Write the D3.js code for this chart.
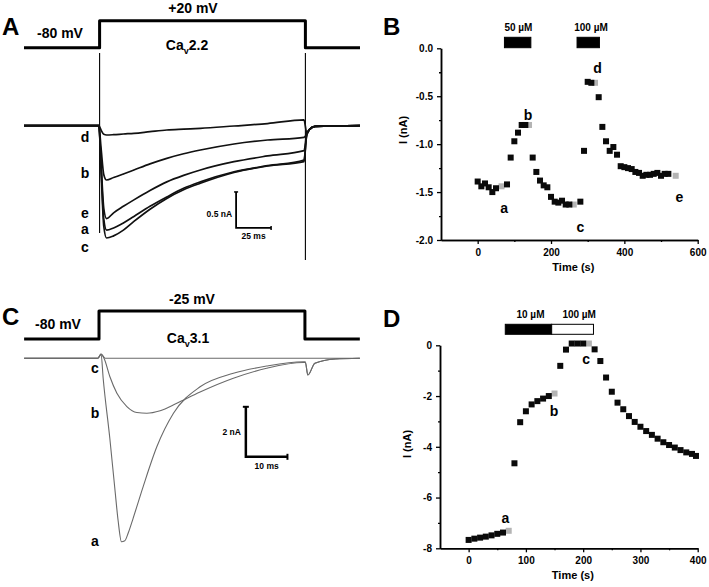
<!DOCTYPE html>
<html>
<head>
<meta charset="utf-8">
<script src="https://cdn.jsdelivr.net/npm/d3@7"></script>
<style>
  body { margin: 0; background: #fff; }
  text { font-family: "Liberation Sans", Arial, sans-serif; font-weight: bold; fill: #000; }
</style>
</head>
<body>
<svg id="fig" width="709" height="587"></svg>
<script>
// ---------------- DATA ----------------
// Panel A: Cav2.2 voltage protocol (ms, mV)
const protocolA = [[-54, -80], [0, -80], [0, 20], [147, 20], [147, -80], [186, -80]];
// Panel A current traces [ms, nA]
const traceAc = [[-54,0],[-0.5,0],[1,-0.6],[3,-1.40],[5,-1.56],[10,-1.53],[17,-1.45],[24.5,-1.33],[36,-1.16],[48,-1.01],[60,-0.89],[72,-0.80],[96,-0.65],[120,-0.56],[146,-0.50],[148,-0.12],[150,-0.05],[154,-0.01],[186,0]];
const traceAa = [[-54,0],[-0.5,0],[1,-0.55],[3,-1.30],[5,-1.45],[10,-1.42],[17,-1.35],[24.5,-1.26],[36,-1.12],[48,-0.99],[60,-0.87],[72,-0.78],[96,-0.64],[120,-0.555],[146,-0.476],[148,-0.12],[150,-0.05],[154,-0.01],[186,0]];
const traceAe = [[-54,0],[-0.5,0],[1,-0.5],[3,-1.15],[5,-1.29],[10,-1.21],[17,-1.12],[24.5,-1.03],[36,-0.90],[48,-0.78],[60,-0.69],[72,-0.615],[96,-0.50],[120,-0.42],[146,-0.347],[148,-0.12],[150,-0.05],[154,-0.01],[186,0]];
const traceAb = [[-54,0],[-0.5,0],[1,-0.3],[3,-0.68],[5,-0.754],[10,-0.72],[17,-0.67],[24.5,-0.615],[36,-0.53],[48,-0.453],[60,-0.39],[72,-0.338],[96,-0.254],[120,-0.199],[146,-0.161],[148,-0.12],[150,-0.05],[154,-0.01],[186,0]];
const traceAd = [[-54,0],[-0.5,0],[1,-0.06],[3,-0.12],[5,-0.129],[10,-0.125],[17,-0.115],[24.5,-0.106],[36,-0.083],[48,-0.06],[60,-0.048],[72,-0.037],[96,-0.004],[120,0.03],[146,0.08],[148,-0.1],[150,-0.05],[154,-0.01],[186,0]];
const artifactA = [[0, 1.01, -1.49], [147, 1.01, -1.865]];   // [ms, top nA, bottom nA]
const labelsA = [["d", -0.15], ["b", -0.66], ["e", -1.21], ["a", -1.43], ["c", -1.68]];

// Panel C: Cav3.1 protocol and traces
const protocolC = [[-18, -80], [0, -80], [0, -25], [49.5, -25], [49.5, -80], [62.7, -80]];
const traceCa = [[-18,0],[-0.3,0],[0.5,0.17],[1,-0.8],[2.6,-3.2],[3.8,-5.2],[4.6,-6.5],[5.4,-7.34],[6.2,-7.3],[7,-7.0],[8.2,-6.4],[10.6,-5.14],[13.9,-3.54],[17.9,-2.2],[24.3,-1.14],[32.3,-0.6],[40.3,-0.31],[49.1,-0.14],[49.6,-0.14],[50.2,-0.67],[51.9,-0.2],[56.8,-0.03],[62.7,0]];
const traceCb = [[-18,0],[-0.3,0],[0.5,0.15],[1.2,0],[2.6,-0.73],[4.3,-1.4],[6.7,-1.93],[9.1,-2.17],[11.5,-2.2],[14.7,-2.1],[18.7,-1.8],[24.3,-1.35],[32.3,-0.8],[40.3,-0.4],[49.1,-0.17],[49.6,-0.17],[50.2,-0.67],[51.9,-0.2],[56.8,-0.03],[62.7,0]];
const traceCc = [[-18,0],[-0.3,0],[0.5,0.17],[1.5,0],[62.7,0]];
const labelsC = [["c", -0.4], ["b", -2.2], ["a", -7.3]];

// Panel B: time course Cav2.2 (s, nA, gray = sampled trace)
const bTime    = [0,10,20,30,40,50,65,80,90,100,110,120,130,140,150,160,170,180,190,200,210,220,230,240,250,262,280,290,300,310,320,330,340,350,360,370,380,390,400,410,420,430,440,450,460,470,480,490,500,510,520,540];
const bCurrent = [-1.39,-1.44,-1.41,-1.45,-1.50,-1.46,-1.44,-1.42,-1.14,-0.97,-0.88,-0.80,-0.80,-0.80,-1.14,-1.29,-1.38,-1.43,-1.45,-1.55,-1.60,-1.61,-1.59,-1.63,-1.63,-1.63,-1.60,-1.07,-0.35,-0.36,-0.36,-0.51,-0.82,-0.97,-1.07,-1.03,-1.11,-1.23,-1.24,-1.25,-1.26,-1.29,-1.30,-1.33,-1.32,-1.32,-1.31,-1.30,-1.33,-1.31,-1.31,-1.33];
const bGray    = [65, 140, 262, 320, 540];
const bBars = [{label: "50 µM", start: 73, end: 145, labelAt: 111, fill: "#000"},
               {label: "100 µM", start: 271, end: 332, labelAt: 309, fill: "#000"}];
const bLetters = [["a", 72, -1.67], ["b", 137, -0.70], ["c", 280, -1.86], ["d", 327, -0.21], ["e", 550, -1.55]];
const bYTicks = [0, -0.5, -1.0, -1.5, -2.0];
const bXTicks = [0, 200, 400, 600];

// Panel D: time course Cav3.1
const dTime    = [0,10,20,30,40,50,60,70,80,90,100,110,120,130,140,150,160,170,180,190,200,210,220,230,240,250,260,270,280,290,300,310,320,330,340,350,360,370,380,390,397];
const dCurrent = [-7.67,-7.62,-7.58,-7.54,-7.49,-7.43,-7.38,-7.31,-4.65,-3.03,-2.60,-2.33,-2.20,-2.10,-2.00,-1.90,-0.81,-0.17,0.07,0.07,0.07,0.07,-0.16,-0.62,-1.27,-1.83,-2.26,-2.52,-2.79,-3.02,-3.21,-3.38,-3.53,-3.68,-3.82,-3.93,-4.03,-4.13,-4.22,-4.28,-4.36];
const dGray    = [70, 150, 210];
const dBars = [{label: "10 µM", start: 64, end: 145, labelAt: 108, fill: "#000"},
               {label: "100 µM", start: 145, end: 218, labelAt: 193, fill: "#fff"}];
const dLetters = [["a", 64, -6.8], ["b", 149, -2.6], ["c", 205, -0.55]];
const dYTicks = [0, -2, -4, -6, -8];
const dXTicks = [0, 100, 200, 300, 400];

// ---------------- DRAW ----------------
const svg = d3.select("#fig");
svg.append("rect").attr("width", 709).attr("height", 587).attr("fill", "#fff");

function panelLetter(t, x, y) {
  svg.append("text").attr("x", x).attr("y", y).attr("font-size", 24).text(t);
}

// ===== Panel A =====
const xA = d3.scaleLinear().domain([-54, 186]).range([24, 360]);
const yA = d3.scaleLinear().domain([0, -1]).range([125.7, 197.7]);
const yVA = d3.scaleLinear().domain([-80, 20]).range([47.7, 20.7]);
const gA = svg.append("g");
gA.append("path").datum(protocolA)
  .attr("d", d3.line().x(d => xA(d[0])).y(d => yVA(d[1])))
  .attr("fill", "none").attr("stroke", "#000").attr("stroke-width", 3).attr("stroke-linejoin", "round");
artifactA.forEach(a => {
  gA.append("line").attr("x1", xA(a[0])).attr("x2", xA(a[0]))
    .attr("y1", yA(a[1])).attr("y2", yA(a[2])).attr("stroke", "#000").attr("stroke-width", 1.1);
});
const lineA = d3.line().x(d => xA(d[0])).y(d => yA(d[1])).curve(d3.curveMonotoneX);
[traceAd, traceAb, traceAe, traceAa, traceAc].forEach(tr => {
  gA.append("path").datum(tr).attr("d", lineA)
    .attr("fill", "none").attr("stroke", "#111").attr("stroke-width", 1.7);
});
labelsA.forEach(l => {
  gA.append("text").attr("x", 85).attr("y", yA(l[1]) + 5).attr("text-anchor", "middle")
    .attr("font-size", 14).text(l[0]);
});
gA.append("text").attr("x", 60).attr("y", 38).attr("text-anchor", "middle").attr("font-size", 14).text("-80 mV");
gA.append("text").attr("x", 193).attr("y", 13).attr("text-anchor", "middle").attr("font-size", 14).text("+20 mV");
const caA = gA.append("text").attr("x", 187).attr("y", 50).attr("text-anchor", "middle").attr("font-size", 14);
caA.append("tspan").text("Ca");
caA.append("tspan").attr("font-size", 9).attr("dy", 4).text("v");
caA.append("tspan").attr("dy", -4).text("2.2");
// scale bar A : 0.5 nA, 25 ms
{
  const t0 = 97.5, i0 = -0.92, i1 = -1.42;
  const sb = d3.line()([[xA(t0), yA(i0)], [xA(t0), yA(i1)], [xA(t0 + 25), yA(i1)]]);
  gA.append("path").attr("d", sb).attr("fill", "none").attr("stroke", "#000").attr("stroke-width", 1.8);
  gA.append("line").attr("x1", xA(t0) - 2).attr("x2", xA(t0) + 2).attr("y1", yA(i0)).attr("y2", yA(i0)).attr("stroke", "#000").attr("stroke-width", 1.5);
  gA.append("line").attr("x1", xA(t0 + 25)).attr("x2", xA(t0 + 25)).attr("y1", yA(i1) - 2).attr("y2", yA(i1) + 2).attr("stroke", "#000").attr("stroke-width", 1.5);
  gA.append("text").attr("x", xA(t0) - 4).attr("y", yA((i0 + i1) / 2) + 7).attr("text-anchor", "end").attr("font-size", 8.5).text("0.5 nA");
  gA.append("text").attr("x", xA(t0 + 12.5)).attr("y", yA(i1) + 11).attr("text-anchor", "middle").attr("font-size", 8.5).text("25 ms");
}
panelLetter("A", 2, 35);

// ===== Panel C =====
const xC = d3.scaleLinear().domain([0, 10]).range([99, 140.6]);
const yC = d3.scaleLinear().domain([0, -2]).range([358.3, 408.3]);
const yVC = d3.scaleLinear().domain([-80, -25]).range([339, 311]);
const gC = svg.append("g");
gC.append("path").datum(protocolC)
  .attr("d", d3.line().x(d => xC(d[0])).y(d => yVC(d[1])))
  .attr("fill", "none").attr("stroke", "#000").attr("stroke-width", 3).attr("stroke-linejoin", "round");
const lineC = d3.line().x(d => xC(d[0])).y(d => yC(d[1])).curve(d3.curveMonotoneX);
[traceCc, traceCb, traceCa].forEach(tr => {
  gC.append("path").datum(tr).attr("d", lineC)
    .attr("fill", "none").attr("stroke", "#6a6a6a").attr("stroke-width", 1.1);
});
labelsC.forEach(l => {
  gC.append("text").attr("x", 95).attr("y", yC(l[1]) + 5).attr("text-anchor", "middle")
    .attr("font-size", 14).text(l[0]);
});
gC.append("text").attr("x", 58).attr("y", 329).attr("text-anchor", "middle").attr("font-size", 14).text("-80 mV");
gC.append("text").attr("x", 192).attr("y", 304).attr("text-anchor", "middle").attr("font-size", 14).text("-25 mV");
const caC = gC.append("text").attr("x", 188).attr("y", 343).attr("text-anchor", "middle").attr("font-size", 14);
caC.append("tspan").text("Ca");
caC.append("tspan").attr("font-size", 9).attr("dy", 4).text("v");
caC.append("tspan").attr("dy", -4).text("3.1");
// scale bar C : 2 nA, 10 ms
{
  const t0 = 35.3, i0 = -1.94, i1 = -3.94;
  const sb = d3.line()([[xC(t0), yC(i0)], [xC(t0), yC(i1)], [xC(t0 + 10), yC(i1)]]);
  gC.append("path").attr("d", sb).attr("fill", "none").attr("stroke", "#000").attr("stroke-width", 2.5);
  gC.append("line").attr("x1", xC(t0) - 3).attr("x2", xC(t0) + 3).attr("y1", yC(i0)).attr("y2", yC(i0)).attr("stroke", "#000").attr("stroke-width", 2);
  gC.append("line").attr("x1", xC(t0 + 10)).attr("x2", xC(t0 + 10)).attr("y1", yC(i1) - 3).attr("y2", yC(i1) + 3).attr("stroke", "#000").attr("stroke-width", 2);
  gC.append("text").attr("x", xC(t0) - 5).attr("y", yC((i0 + i1) / 2) + 3).attr("text-anchor", "end").attr("font-size", 8.5).text("2 nA");
  gC.append("text").attr("x", xC(t0 + 5)).attr("y", yC(i1) + 12).attr("text-anchor", "middle").attr("font-size", 8.5).text("10 ms");
}
panelLetter("C", 2, 325);

// ===== Scatter panels =====
function scatterPanel(opts) {
  const g = svg.append("g");
  const x = d3.scaleLinear().domain(opts.xDomain).range(opts.xRange);
  const y = d3.scaleLinear().domain(opts.yDomain).range(opts.yRange);
  // y axis
  const ya = g.append("g").attr("transform", `translate(${opts.xRange[0]},0)`)
    .call(d3.axisLeft(y).tickValues(opts.yTicks).tickFormat(opts.yFmt).tickSize(4).tickSizeOuter(0).tickPadding(4));
  g.append("g").attr("transform", `translate(${opts.xRange[0]},0)`)
    .call(d3.axisLeft(y).tickValues(opts.yMinor).tickFormat("").tickSize(2).tickSizeOuter(0));
  // x axis
  const xa = g.append("g").attr("transform", `translate(0,${opts.yRange[0]})`)
    .call(d3.axisBottom(x).tickValues(opts.xTicks).tickFormat(d => d).tickSize(4).tickSizeOuter(0).tickPadding(5));
  g.append("g").attr("transform", `translate(0,${opts.yRange[0]})`)
    .call(d3.axisBottom(x).tickValues(opts.xMinor).tickFormat("").tickSize(2).tickSizeOuter(0));
  g.selectAll(".domain").attr("stroke-width", 1.5);
  g.selectAll(".tick line").attr("stroke-width", 1.3);
  g.selectAll(".tick text").attr("font-size", 10).attr("font-family", '"Liberation Sans", Arial, sans-serif').attr("font-weight", "bold").attr("fill", "#000");
  // titles
  g.append("text").attr("x", (opts.xRange[0] + opts.xRange[1]) / 2 + 4).attr("y", opts.yRange[0] + 31)
    .attr("text-anchor", "middle").attr("font-size", 11).text("Time (s)");
  g.append("text").attr("transform", `translate(${opts.yTitleX},${opts.yTitleY}) rotate(-90)`)
    .attr("text-anchor", "middle").attr("font-size", 11).text("I (nA)");
  // bars
  opts.bars.forEach(b => {
    g.append("rect").attr("x", x(b.start)).attr("y", opts.barY).attr("width", x(b.end) - x(b.start))
      .attr("height", opts.barH).attr("fill", b.fill).attr("stroke", "#000").attr("stroke-width", 1);
    g.append("text").attr("x", x(b.labelAt)).attr("y", opts.barY - 6).attr("text-anchor", "middle")
      .attr("font-size", 10).text(b.label);
  });
  // points
  const pts = opts.time.map((t, i) => ({t, v: opts.current[i], gray: opts.gray.includes(t)}));
  const s = 6;
  g.selectAll("rect.g").data(pts.filter(p => p.gray)).join("rect").attr("class", "g")
    .attr("x", d => x(d.t) - s / 2).attr("y", d => y(d.v) - s / 2).attr("width", s).attr("height", s).attr("fill", "#b4b4b4");
  g.selectAll("rect.k").data(pts.filter(p => !p.gray)).join("rect").attr("class", "k")
    .attr("x", d => x(d.t) - s / 2).attr("y", d => y(d.v) - s / 2).attr("width", s).attr("height", s).attr("fill", "#0a0a0a");
  // letters
  opts.letters.forEach(l => {
    g.append("text").attr("x", x(l[1])).attr("y", y(l[2]) + 5).attr("text-anchor", "middle").attr("font-size", 14).text(l[0]);
  });
}

scatterPanel({
  xDomain: [-100, 600], xRange: [441, 697.7],
  yDomain: [-2, 0], yRange: [240, 48.3],
  yTicks: bYTicks, yMinor: [-0.25, -0.75, -1.25, -1.75],
  yFmt: d => d.toFixed(1),
  xTicks: bXTicks, xMinor: [100, 300, 500],
  yTitleX: 407, yTitleY: 130,
  bars: bBars, barY: 37.3, barH: 10.4,
  time: bTime, current: bCurrent, gray: bGray,
  letters: bLetters
});
panelLetter("B", 383, 35);

scatterPanel({
  xDomain: [-50, 400], xRange: [440, 697.7],
  yDomain: [-8, 0], yRange: [548.3, 345.3],
  yTicks: dYTicks, yMinor: [-1, -3, -5, -7],
  yFmt: d => String(d),
  xTicks: dXTicks, xMinor: [50, 150, 250, 350],
  yTitleX: 411, yTitleY: 444,
  bars: dBars, barY: 324.3, barH: 10,
  time: dTime, current: dCurrent, gray: dGray,
  letters: dLetters
});
panelLetter("D", 383, 327);
</script>
</body>
</html>
